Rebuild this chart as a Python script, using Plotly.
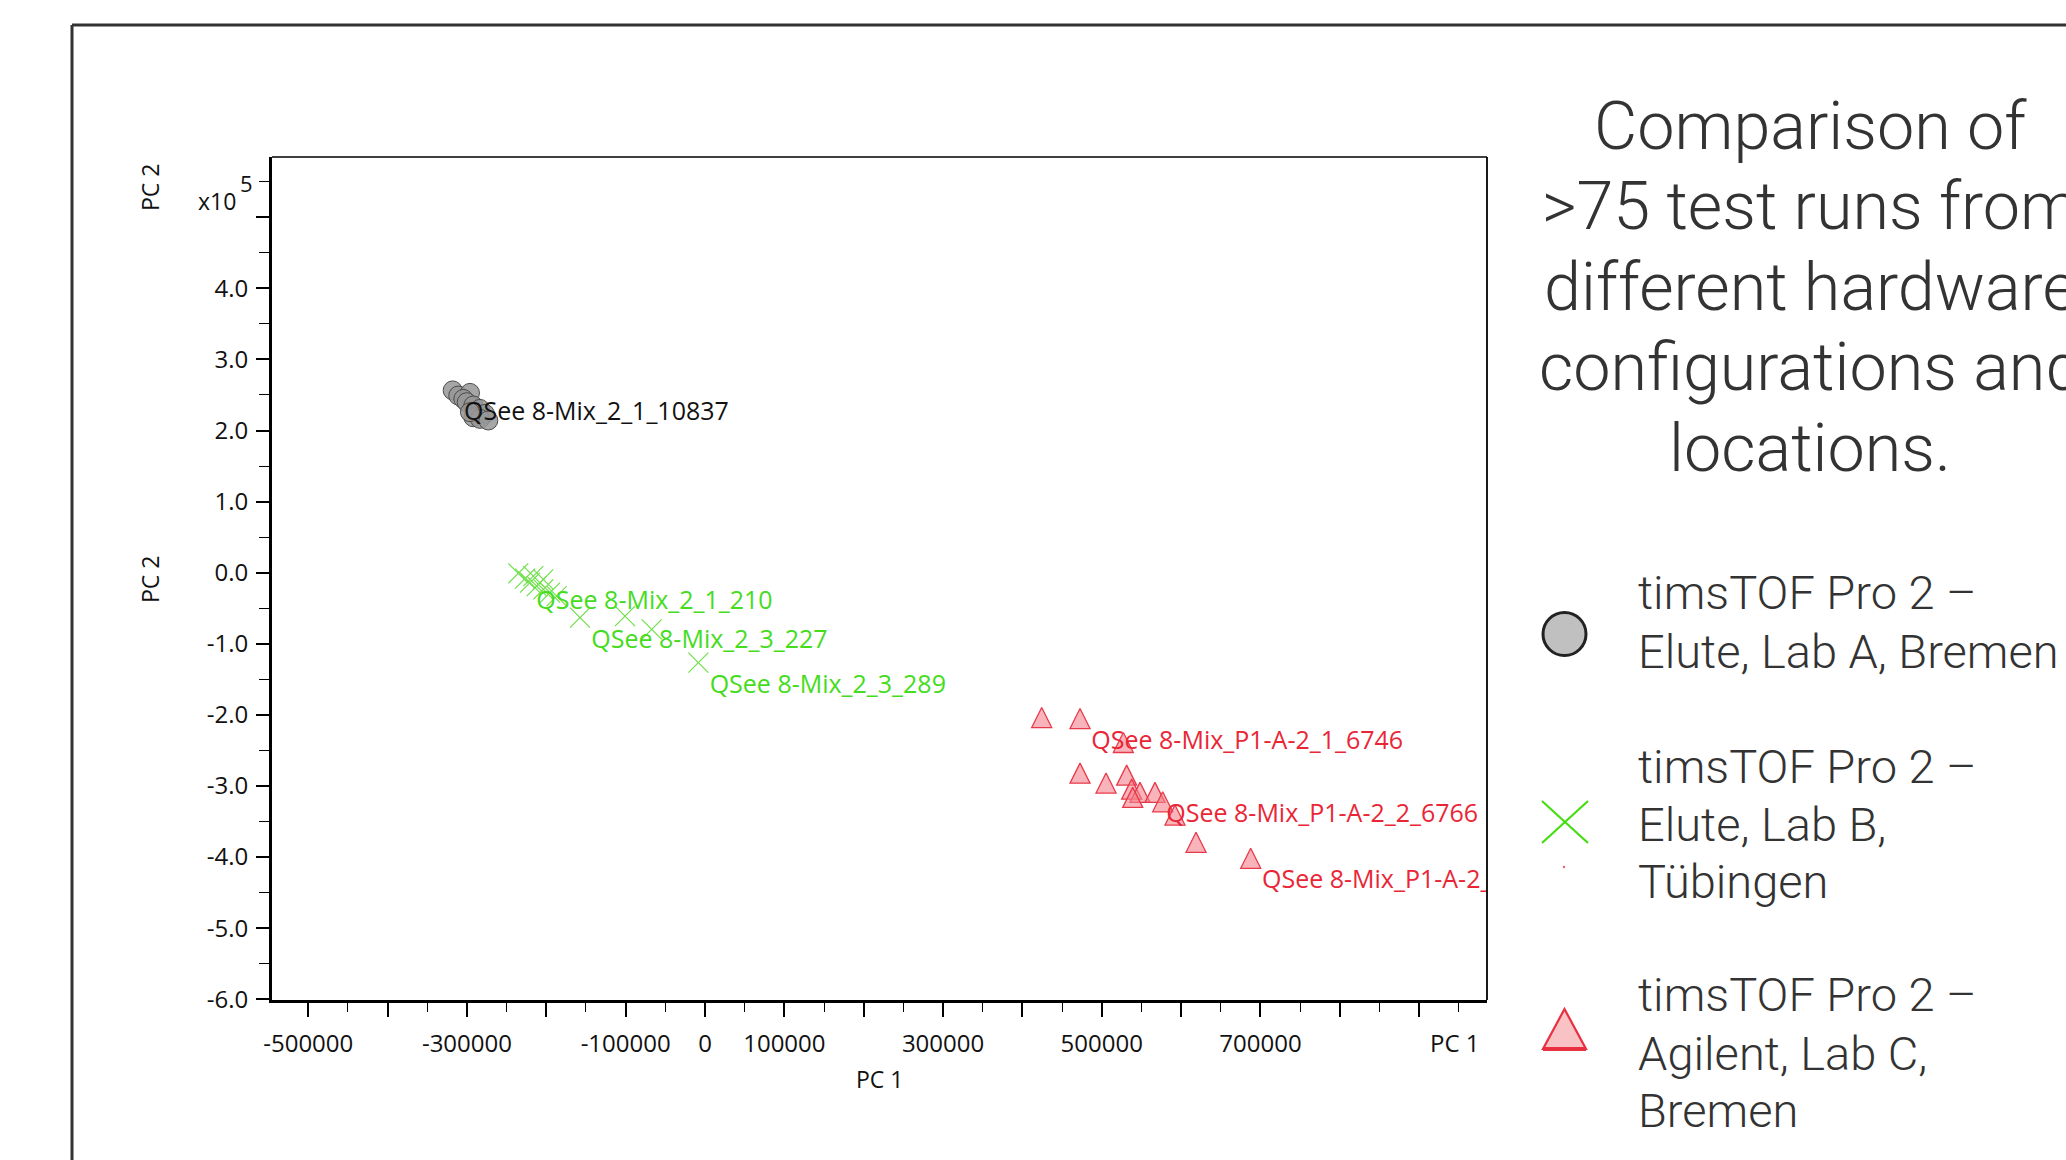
import plotly.graph_objects as go

# ---------------- data ----------------
lab_a_x = [-318000, -311000, -296200, -304600, -300300, -292000, -283600,
           -277300, -292000, -283600, -273100, -296200]
lab_a_y = [256400, 249200, 252900, 244400, 239800, 235200, 230400,
           223400, 218700, 216400, 214100, 225800]
lab_a_text = ["QSee 8-Mix_2_1_10837", "", "", "", "", "", "", "", "", "", "", ""]

lab_b_x = [-235300, -226800, -220500, -216400, -212100, -203800, -203800,
           -195300, -186900, -157500, -100800, -67200, -8400]
lab_b_y = [-1000, -8400, -14000, -4800, -18800, -9400, -23500,
           -28100, -32900, -63200, -61000, -79600, -126400]
lab_b_text = ["", "QSee 8-Mix_2_1_210", "", "", "", "", "", "", "",
              "QSee 8-Mix_2_3_227", "", "", "QSee 8-Mix_2_3_289"]

lab_c_x = [424300, 472600, 527200, 472600, 505400, 531400, 537700,
           548200, 539000, 567100, 576800, 592300, 618800, 687700]
lab_c_y = [-203700, -205100, -238800, -281900, -295900, -284700, -304400,
           -309000, -316000, -309000, -322200, -340900, -379200, -401700]
lab_c_text = ["", "QSee 8-Mix_P1-A-2_1_6746", "", "", "", "", "", "", "",
              "QSee 8-Mix_P1-A-2_2_6766", "", "", "", "QSee 8-Mix_P1-A-2_3_6786"]

x_tickvals = [-500000, -400000, -300000, -200000, -100000, 0, 100000, 200000,
              300000, 400000, 500000, 600000, 700000, 800000, 900000]
x_ticktext = ["-500000", "", "-300000", "", "-100000", "0", "100000", "",
              "300000", "", "500000", "", "700000", "", ""]
y_tickvals = [-600000, -500000, -400000, -300000, -200000, -100000, 0,
              100000, 200000, 300000, 400000, 500000]
y_ticktext = ["-6.0", "-5.0", "-4.0", "-3.0", "-2.0", "-1.0", "0.0",
              "1.0", "2.0", "3.0", "4.0", ""]

title_lines = ["Comparison of", ">75 test runs from", "different hardware",
               "configurations and", "locations."]
legend_entries = [
    ["timsTOF Pro 2 \u2013", "Elute, Lab A, Bremen"],
    ["timsTOF Pro 2 \u2013", "Elute, Lab B,", "T\u00fcbingen"],
    ["timsTOF Pro 2 \u2013", "Agilent, Lab C,", "Bremen"],
]

# ---------------- layout geometry (pixels) ----------------
FIG_W, FIG_H = 2066, 1160
L, T, RGT, BOT = 272, 157, 1487, 1000
PW, PH = RGT - L, BOT - T


def px(x):
    return (x - L) / PW


def py(y):
    return (BOT - y) / PH


FONT = "Open Sans"
TFONT = "Roboto Light, Roboto"
LABEL_SIZE = 25

fig = go.Figure()


def add_series(xs, ys, texts, marker, text_color):
    fig.add_trace(go.Scatter(
        x=xs, y=ys, mode="markers", marker=marker,
        hoverinfo="skip", showlegend=False))
    idx = [i for i, t in enumerate(texts) if t]
    # labels: text placed below-right of the labelled point
    fig.add_trace(go.Scatter(
        x=[xs[i] for i in idx], y=[ys[i] for i in idx],
        text=[texts[i] for i in idx], mode="markers+text",
        textposition="bottom right",
        textfont=dict(family=FONT, size=LABEL_SIZE, color=text_color),
        marker=dict(size=16.5, opacity=0),
        hoverinfo="skip", showlegend=False))


add_series(lab_a_x, lab_a_y, lab_a_text,
           dict(symbol="circle", size=19, color="rgba(150,150,150,0.85)",
                line=dict(color="#4a4a4a", width=1)),
           "#111111")
add_series(lab_b_x, lab_b_y, lab_b_text,
           dict(symbol="x-thin-open", size=20, color="#6ee04a",
                line=dict(width=1.2)),
           "#44dc1c")
add_series(lab_c_x, lab_c_y, lab_c_text,
           dict(symbol="arrow-down", angle=180, standoff=10, size=20,
                color="rgba(244,130,140,0.6)",
                line=dict(color="#e8394a", width=1.3)),
           "#ea2636")

x_minor = [v + 50000 for v in x_tickvals]
y_minor = [v + 50000 for v in y_tickvals]

fig.update_xaxes(
    range=[-545700, 985500], showgrid=False, zeroline=False,
    showline=True, linewidth=3, linecolor="black",
    ticks="outside", ticklen=14, tickwidth=1.5, tickcolor="black",
    tickmode="array", tickvals=x_tickvals, ticktext=x_ticktext,
    tickfont=dict(family=FONT, size=24, color="#111111"),
    ticklabelstandoff=6,
    minor=dict(tickmode="array", tickvals=x_minor, ticks="outside",
               ticklen=9, tickwidth=1.3, tickcolor="black", showgrid=False),
)
fig.update_yaxes(
    range=[-601000, 584700], showgrid=False, zeroline=False,
    showline=True, linewidth=3, linecolor="black",
    ticks="outside", ticklen=13, tickwidth=1.5, tickcolor="black",
    tickmode="array", tickvals=y_tickvals, ticktext=y_ticktext,
    tickfont=dict(family=FONT, size=24, color="#111111"),
    ticklabelstandoff=3,
    minor=dict(tickmode="array", tickvals=y_minor, ticks="outside",
               ticklen=10.5, tickwidth=1.3, tickcolor="black", showgrid=False),
)

shapes = []
# plot box top & right (thin)
shapes.append(dict(type="line", xref="paper", yref="paper", x0=0, x1=1, y0=1, y1=1,
                   line=dict(color="black", width=1.6)))
shapes.append(dict(type="line", xref="paper", yref="paper", x0=1, x1=1, y0=0, y1=1,
                   line=dict(color="black", width=1.8)))
# outer frame (left & top)
shapes.append(dict(type="line", xref="paper", yref="paper", x0=px(72), x1=px(2080),
                   y0=py(25), y1=py(25), line=dict(color="#333333", width=3)))
shapes.append(dict(type="line", xref="paper", yref="paper", x0=px(72), x1=px(72),
                   y0=py(25), y1=py(1180), line=dict(color="#333333", width=3)))

# legend symbols
shapes.append(dict(type="circle", xref="paper", yref="paper",
                   x0=px(1543), x1=px(1586), y0=py(655.5), y1=py(612.5),
                   fillcolor="#c0c0c0", line=dict(color="#222222", width=3)))
shapes.append(dict(type="line", xref="paper", yref="paper",
                   x0=px(1542), y0=py(801), x1=px(1588), y1=py(843),
                   line=dict(color="#44dd11", width=2.2)))
shapes.append(dict(type="line", xref="paper", yref="paper",
                   x0=px(1542), y0=py(843), x1=px(1588), y1=py(801),
                   line=dict(color="#44dd11", width=2.2)))
shapes.append(dict(type="circle", xref="paper", yref="paper",
                   x0=px(1562.8), x1=px(1565.2), y0=py(868.2), y1=py(865.8),
                   fillcolor="#f06070", line=dict(width=0)))
tri = "M {:.5f},{:.5f} L {:.5f},{:.5f} L {:.5f},{:.5f} Z".format(
    px(1564.5), py(1009), px(1543), py(1049), px(1586), py(1049))
shapes.append(dict(type="path", xref="paper", yref="paper", path=tri,
                   fillcolor="#f9c2c5", line=dict(color="#e83040", width=2.2)))
shapes.append(dict(type="line", xref="paper", yref="paper",
                   x0=px(1543), y0=py(1049), x1=px(1586), y1=py(1049),
                   line=dict(color="#e83040", width=4)))

annotations = []


def ann(text, x, y, size, family=FONT, color="#111111", xanchor="center",
        angle=0, weight=None):
    f = dict(family=family, size=size, color=color)
    if weight is not None:
        f["weight"] = weight
    annotations.append(dict(text=text, x=px(x), y=py(y), xref="paper", yref="paper",
                            showarrow=False, xanchor=xanchor, yanchor="middle",
                            textangle=angle, font=f, borderpad=0, borderwidth=0))


ann("x10", 217, 201, 23)
ann("5", 246, 183, 22)
ann("PC 2", 150, 188, 23, angle=-90)
ann("PC 2", 150, 580, 23, angle=-90)
ann("PC 1", 879, 1079, 23)
ann("PC 1", 1455, 1042, 24)

title_centers = [125.6, 206.1, 286.6, 367.1, 447.6]
for line, cy in zip(title_lines, title_centers):
    ann(line, 1810, cy, 66.5, family=TFONT, color="#333333", weight=300)

legend_centers = [[592, 651], [766, 824, 881], [994, 1053, 1110]]
for lines, cys in zip(legend_entries, legend_centers):
    for line, cy in zip(lines, cys):
        ann(line, 1637.5, cy, 47, family=TFONT, color="#333333",
            xanchor="left", weight=300)

fig.update_layout(
    width=FIG_W, height=FIG_H,
    margin=dict(l=L, r=FIG_W - RGT, t=T, b=FIG_H - BOT, pad=0),
    paper_bgcolor="white", plot_bgcolor="white",
    shapes=shapes, annotations=annotations,
    showlegend=False,
)

fig.write_html("out.html",
               config={"displayModeBar": False},
               post_script="document.body.style.margin='0px';"
                           "document.body.style.padding='0px';")
